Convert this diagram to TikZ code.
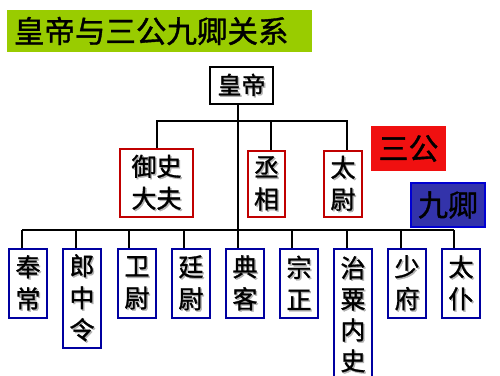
\documentclass[tikz,border=0pt]{standalone}
\usepackage{fontspec}
\setmainfont{Noto Sans CJK SC}[FakeBold=1.2]
\definecolor{titlegreen}{RGB}{153,204,0}
\definecolor{boxred}{RGB}{192,0,0}
\definecolor{boxblue}{RGB}{0,0,160}
\definecolor{sgred}{RGB}{240,16,16}
\definecolor{jqblue}{RGB}{51,51,170}
\definecolor{jqedge}{RGB}{0,0,210}
\newcommand\shc[1]{\makebox[0pt][l]{\hspace{1.4pt}\raisebox{-1.4pt}{\color{black!30}#1}}#1}
\tikzset{
  offbox/.style={draw, inner sep=0pt, align=center,
    font=\fontsize{25}{32}\selectfont},
  gongbox/.style={offbox, draw=boxred, line width=2pt},
  qingbox/.style={offbox, draw=boxblue, line width=2pt, minimum width=38, anchor=north},
  tag/.style={inner sep=0pt, font=\fontsize{30}{34}\selectfont},
  link/.style={line width=2pt, black}
}
\begin{document}
\begin{tikzpicture}[x=1pt,y=-1pt]
\useasboundingbox (0,0) rectangle (500,375);
\node[fill=titlegreen, inner sep=0pt, minimum width=305, minimum height=42,
      text width=291, align=left, font=\fontsize{30.5}{34}\selectfont] (title) at (159.5,31) {皇帝与三公九卿关系};
\node[offbox, draw=black, line width=1.5pt, minimum width=63, minimum height=37,
      font=\fontsize{24}{30}\selectfont] (hd) at (241.5,85.5) {\shc{皇}\shc{帝}};
\node[gongbox, minimum width=73, minimum height=68] (ys) at (156.5,183) {\shc{御}\shc{史}\\\shc{大}\shc{夫}};
\node[gongbox, minimum width=37, minimum height=66] (cx) at (266.5,184) {\shc{丞}\\\shc{相}};
\node[gongbox, minimum width=38, minimum height=66] (tw) at (343,184) {\shc{太}\\\shc{尉}};
\node[tag, fill=sgred, minimum width=75, minimum height=45] (sg) at (408.5,148.5) {三公};
\node[tag, fill=jqblue, draw=jqedge, line width=1.5pt, minimum width=74, minimum height=44] (jq) at (448,205) {九卿};
\node[qingbox, minimum height=69] (b1) at (28,248) {\shc{奉}\\\shc{常}};
\node[qingbox, minimum height=99] (b2) at (82,248) {\shc{郎}\\\shc{中}\\\shc{令}};
\node[qingbox, minimum height=69] (b3) at (137,248) {\shc{卫}\\\shc{尉}};
\node[qingbox, minimum height=69] (b4) at (191,248) {\shc{廷}\\\shc{尉}};
\node[qingbox, minimum height=69] (b5) at (245,248) {\shc{典}\\\shc{客}};
\node[qingbox, minimum height=69] (b6) at (299,248) {\shc{宗}\\\shc{正}};
\node[qingbox, minimum height=132, font=\fontsize{25}{31}\selectfont] (b7) at (353,248) {\shc{治}\\\shc{粟}\\\shc{内}\\\shc{史}};
\node[qingbox, minimum height=69] (b8) at (407,248) {\shc{少}\\\shc{府}};
\node[qingbox, minimum height=69] (b9) at (461,248) {\shc{太}\\\shc{仆}};
\coordinate (topbus) at (238,121);
\coordinate (botbus) at (238,230);
% top level
\draw[link] ([xshift=-3.5]hd.south) -- ([xshift=-3.5]hd.south |- botbus);
\draw[link] (ys.north) |- (topbus) -| ([xshift=4.5]cx.north);
\draw[link] (topbus) -| ([xshift=4]tw.north);
% bottom level
\draw[link] ([xshift=-6]b1.north |- botbus) -- ([xshift=-7]b9.north |- botbus);
\foreach \b/\s in {b1/-6,b2/-6,b3/-8,b4/-7,b5/-7,b6/-7,b7/-6,b8/-6,b9/-7}
  \draw[link] ([xshift=\s]\b.north) -- ([xshift=\s]\b.north |- botbus);
\end{tikzpicture}
\end{document}
